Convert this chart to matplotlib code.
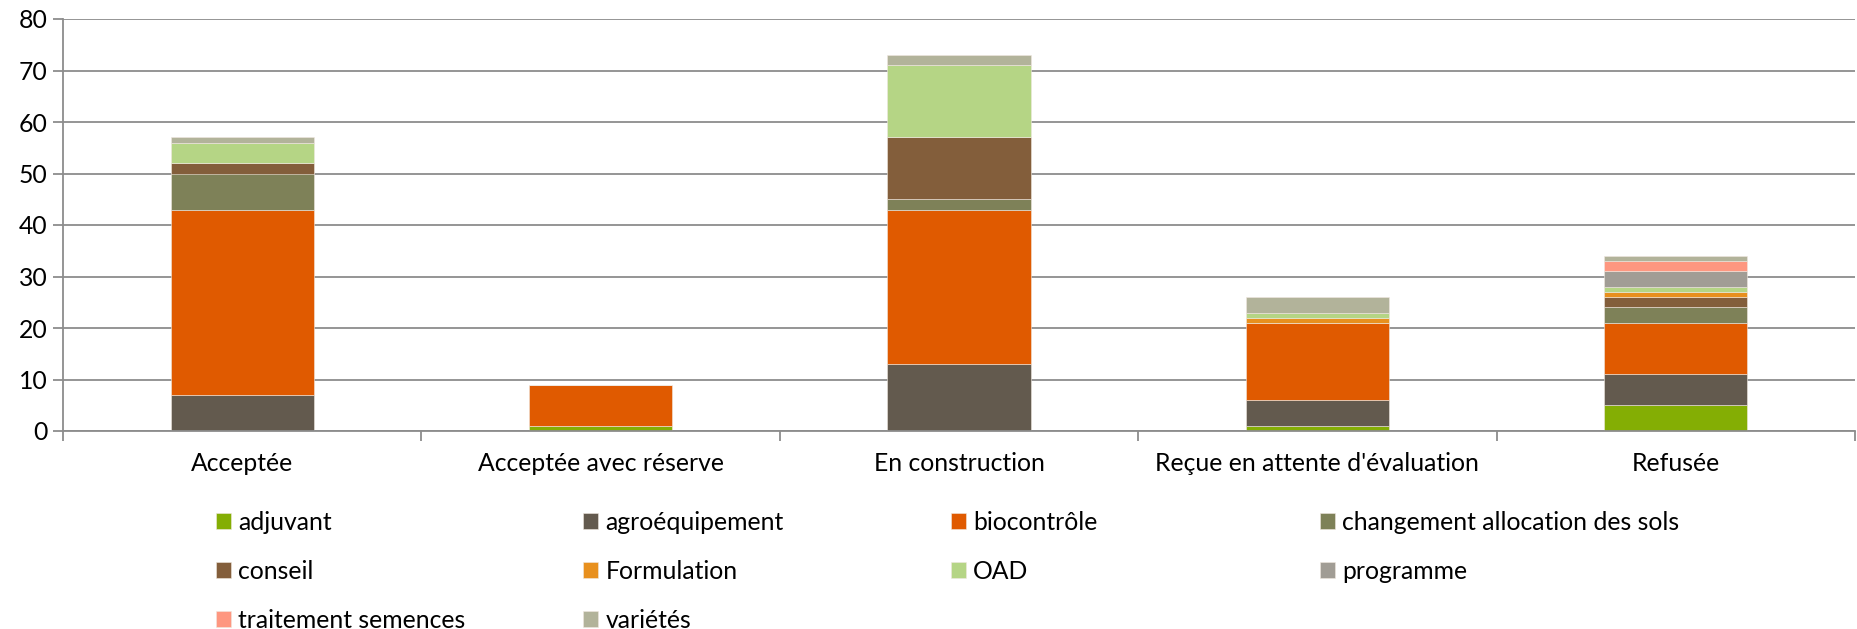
import numpy as np
import matplotlib
matplotlib.use('Agg')
import matplotlib.pyplot as plt

# categories and stacked series
categories = ['Acceptée', 'Acceptée avec réserve', 'En construction',
              "Reçue en attente d'évaluation", 'Refusée']
series_names = ['adjuvant', 'agroéquipement', 'biocontrôle',
                'changement allocation des sols', 'conseil', 'Formulation',
                'OAD', 'programme', 'traitement semences', 'variétés']

adjuvant = [0, 1, 0, 1, 5]
agroequipement = [7, 0, 13, 5, 6]
biocontrole = [36, 8, 30, 15, 10]
changement = [7, 0, 2, 0, 3]
conseil = [2, 0, 12, 0, 2]
formulation = [0, 0, 0, 1, 1]
oad = [4, 0, 14, 1, 1]
programme = [0, 0, 0, 0, 3]
traitement = [0, 0, 0, 0, 2]
varietes = [1, 0, 2, 3, 1]

colors = ['#84AE04', '#635A4E', '#E05A00', '#7E8158', '#835E3B',
          '#E8901E', '#B5D585', '#A19D95', '#FE9780', '#B2B39A']

values = [adjuvant, agroequipement, biocontrole, changement, conseil,
          formulation, oad, programme, traitement, varietes]

plt.rcParams['font.family'] = ['Lato', 'DejaVu Sans']
fs = 17.8

fig = plt.figure(figsize=(18.57, 6.29), dpi=100)
ax = fig.add_axes([63/1857, 1-431/629, (1855-63)/1857, (431-19)/629])

x = np.arange(len(categories))
bottom = np.zeros(len(categories))
handles = []
for name, vals, col in zip(series_names, values, colors):
    b = ax.bar(x, vals, 0.4, bottom=bottom, color=col, label=name,
               edgecolor='#F0E8E0', linewidth=0.4)
    handles.append(b)
    bottom += np.array(vals)

ax.set_xlim(-0.5, len(categories) - 0.5)
ax.set_ylim(0, 80)
ax.set_yticks(range(0, 81, 10))
ax.yaxis.grid(True, color='#8C8C8C', linewidth=1.3)
ax.set_axisbelow(True)
for s in ['top', 'right']:
    ax.spines[s].set_visible(False)
for s in ['left', 'bottom']:
    ax.spines[s].set_color('#8C8C8C')
    ax.spines[s].set_linewidth(1.3)

ax.set_xticks(x)
ax.set_xticklabels(categories, fontsize=fs)
ax.tick_params(axis='x', which='major', length=0, pad=15)
ax.set_xticks(np.arange(-0.5, len(categories), 1), minor=True)
ax.tick_params(axis='x', which='minor', length=7, color='#8C8C8C', width=1.3)
ax.tick_params(axis='y', labelsize=fs, length=7, color='#8C8C8C', width=1.3, pad=4)

# legend laid out row by row, four columns at fixed places
col_x = [216/1857, 583/1857, 951/1857, 1320/1857]
for c in range(4):
    idx = list(range(c, len(series_names), 4))
    fig.legend([handles[i] for i in idx], [series_names[i] for i in idx],
               loc='upper left', bbox_to_anchor=(col_x[c], 1-511/629),
               frameon=False, fontsize=fs, handlelength=0.6, handleheight=0.6,
               handletextpad=0.3, labelspacing=1.05, borderpad=0,
               borderaxespad=0)

fig.savefig('out.png', dpi=100)
